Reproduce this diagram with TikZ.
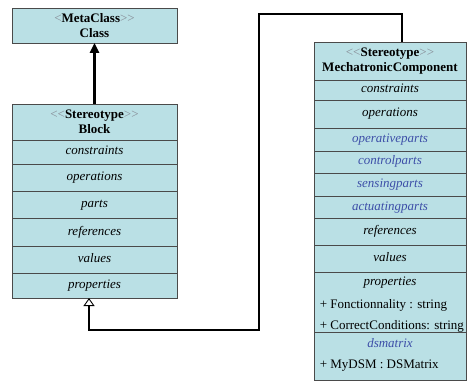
\documentclass[tikz,border=0pt]{standalone}
\usepackage{fontspec}
\setmainfont{Liberation Serif}
\usetikzlibrary{arrows.meta, positioning}
\definecolor{cfill}{HTML}{BAE0E5}
\definecolor{cedge}{HTML}{4A4A4A}
\definecolor{cblue}{HTML}{3D4FA8}
\definecolor{cmark}{HTML}{868C96}
\tikzset{
  every picture/.style={font=\fontsize{13}{15}\selectfont, line width=0.9pt},
  cell/.style={draw=cedge, fill=cfill, minimum width=#1, inner sep=0pt, outer sep=0pt, text height=9pt, text depth=3pt},
  cell/.default=165pt,
  head/.style={draw=cedge, fill=cfill, minimum width=#1, inner sep=0pt, outer sep=0pt, align=center},
  head/.default=165pt,
  gen/.style={-{Triangle[open, length=8pt, width=11pt, line width=0.9pt]}, line width=2.4pt},
  assoc/.style={-{Triangle[length=10pt, width=9pt]}, line width=2.4pt},
}
\newcommand{\stereo}[1]{\textcolor{cmark}{{<}{<}}\textbf{#1}\textcolor{cmark}{{>}{>}}}

\begin{document}
\begin{tikzpicture}[x=1pt, y=-1pt]
  \useasboundingbox (0,0) rectangle (468,382);
  % metaclass
  \node[head, minimum height=35pt, anchor=north west] (cls) at (12,8) {\textcolor{cmark}{<}\textbf{MetaClass}\textcolor{cmark}{{>}{>}}\\\textbf{Class}};
  % block
  \node[head, minimum height=36pt, anchor=north west] (b0) at (12,104) {\stereo{Stereotype}\\\textbf{Block}};
  \foreach \t/\h [count=\i, remember=\i as \j (initially 0)] in {constraints/24pt, operations/27pt, parts/27pt, references/28pt, values/27pt, properties/25pt}
    \node[cell, minimum height=\h, below=0pt of b\j] (b\i) {\textit{\t}};
  \draw[assoc] (b0.north) -- (cls.south);
  % mechatronic component
  \node[head=152pt, minimum height=38pt, anchor=north west] (m0) at (314,42) {\stereo{Stereotype}\\\textbf{MechatronicComponent}};
  \foreach \t/\h/\c [count=\i, remember=\i as \j (initially 0)] in {constraints/20pt/black, operations/28pt/black, operativeparts/23pt/cblue, controlparts/22pt/cblue, sensingparts/23pt/cblue, actuatingparts/22pt/cblue, references/27pt/black, values/27pt/black}
    \node[cell=152pt, minimum height=\h, text=\c, below=0pt of m\j] (m\i) {\textit{\t}};
  \node[head=152pt, minimum height=60pt, below=0pt of m8] (m9) {};
  \node[head=152pt, minimum height=48pt, below=0pt of m9] (m10) {};
  \node (prop) at (390,283) {\textit{properties}};
  \node[anchor=west] (fct) at (316,305) {+ Fonctionnality : string};
  \node[anchor=west] (cond) at (316,326) {+ CorrectConditions: string};
  \node[text=cblue] (dsm) at (390,343) {\textit{dsmatrix}};
  \node[anchor=west] (mydsm) at (316,366) {+ MyDSM : DSMatrix};
  % generalization
  \coordinate (bend) at (259,330);
  \draw[gen] ([xshift=12pt]m0.north) -- ++(0,-28) -| (bend) -| ([xshift=-5.5pt]b6.south);
\end{tikzpicture}
\end{document}
